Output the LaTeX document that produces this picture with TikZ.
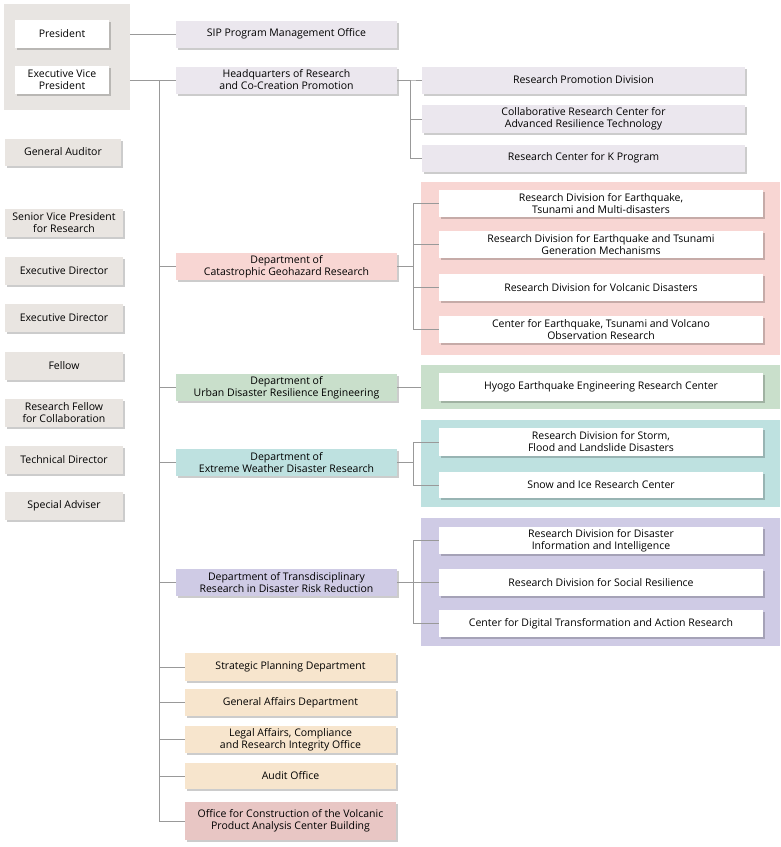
\documentclass[tikz,border=0pt]{standalone}
\usepackage{fontspec}
\setmainfont{Open Sans}
\usetikzlibrary{shadows}

\definecolor{topgray}{HTML}{E8E5E2}
\definecolor{sidegray}{HTML}{E9E5E1}
\definecolor{lavender}{HTML}{EBE7EE}
\definecolor{pinkdept}{HTML}{F8D6D3}
\definecolor{greendept}{HTML}{C9DFCB}
\definecolor{tealdept}{HTML}{BEE1E0}
\definecolor{purpledept}{HTML}{CFCBE5}
\definecolor{beige}{HTML}{F7E5CD}
\definecolor{rosewood}{HTML}{E8C6C4}
\definecolor{linegray}{HTML}{999999}

\begin{document}
\begin{tikzpicture}[x=1pt,y=-1pt,
    every node/.style={font=\fontsize{10.5}{12}\selectfont, align=center, inner sep=1pt, text=black},
    box/.style={minimum height=27, drop shadow={shadow xshift=2pt, shadow yshift=-2pt, fill=black, opacity=.2}},
    sidebox/.style={box, fill=sidegray, minimum width=118, minimum height=28},
    deptbox/.style={box, minimum width=221},
    unitbox/.style={box, fill=white, minimum width=324},
    subbox/.style={box, fill=lavender, minimum width=323},
    officebox/.style={box, fill=beige, minimum width=211},
    panel/.style={minimum width=359},
    conn/.style={draw=linegray, line width=.8pt}]

    \useasboundingbox (0,0) rectangle (780,847);

    % top management
    \node[fill=topgray, minimum width=126, minimum height=106] (top) at (67,57) {};
    \node[box, fill=white, minimum width=94, minimum height=28] (pres) at (62,34) {President};
    \node[box, fill=white, minimum width=94, minimum height=28] (evp) at (62,80) {Executive Vice\\President};

    \node[sidebox, minimum width=116, minimum height=27] (aud) at (63,152) {General Auditor};
    \node[sidebox] (svp) at (64,222.5) {Senior Vice President\\for Research};
    \node[sidebox] (exa) at (64,271) {Executive Director};
    \node[sidebox] (exb) at (64,318) {Executive Director};
    \node[sidebox] (fel) at (64,366) {Fellow};
    \node[sidebox] (rfc) at (64,412.5) {Research Fellow\\for Collaboration};
    \node[sidebox] (tdir) at (64,459.5) {Technical Director};
    \node[sidebox] (sadv) at (64,506) {Special Adviser};

    % headquarters
    \node[deptbox, fill=lavender] (sip) at (286.5,34) {SIP Program Management Office};
    \node[deptbox, fill=lavender] (hq) at (286.5,80) {Headquarters of Research\\and Co-Creation Promotion};
    \node[subbox] (rpd) at (583.5,80) {Research Promotion Division};
    \node[subbox, minimum height=28] (crc) at (583.5,119) {Collaborative Research Center for\\Advanced Resilience Technology};
    \node[subbox] (kp) at (583.5,158) {Research Center for K Program};

    % departments and their panels
    \node[panel, fill=pinkdept, minimum height=173] (pinkp) at (600.5,268.5) {};
    \node[panel, fill=greendept, minimum height=44] (greenp) at (600.5,387) {};
    \node[panel, fill=tealdept, minimum height=87] (tealp) at (600.5,463.5) {};
    \node[panel, fill=purpledept, minimum height=128] (purplep) at (600.5,582) {};

    \node[deptbox, fill=pinkdept] (cat) at (286.5,266.5) {Department of\\Catastrophic Geohazard Research};
    \node[unitbox] (eqm) at (601,203.5) {Research Division for Earthquake,\\Tsunami and Multi-disasters};
    \node[unitbox] (eqg) at (601,244.5) {Research Division for Earthquake and Tsunami\\Generation Mechanisms};
    \node[unitbox] (vol) at (601,287.5) {Research Division for Volcanic Disasters};
    \node[unitbox] (obs) at (601,329.5) {Center for Earthquake, Tsunami and Volcano\\Observation Research};

    \node[deptbox, fill=greendept] (urban) at (286.5,387.5) {Department of\\Urban Disaster Resilience Engineering};
    \node[unitbox, minimum height=28] (hyogo) at (601,387) {Hyogo Earthquake Engineering Research Center};

    \node[deptbox, fill=tealdept] (wx) at (286.5,462.5) {Department of\\Extreme Weather Disaster Research};
    \node[unitbox, minimum height=28] (storm) at (601,442) {Research Division for Storm,\\Flood and Landslide Disasters};
    \node[unitbox, minimum height=26] (snow) at (601,485) {Snow and Ice Research Center};

    \node[deptbox, fill=purpledept] (trans) at (286.5,582.5) {Department of Transdisciplinary\\Research in Disaster Risk Reduction};
    \node[unitbox] (info) at (601,540.5) {Research Division for Disaster\\Information and Intelligence};
    \node[unitbox] (soc) at (601,582.5) {Research Division for Social Resilience};
    \node[unitbox] (dx) at (601,623.5) {Center for Digital Transformation and Action Research};

    % administration
    \node[officebox, minimum height=28] (strat) at (290.5,667) {Strategic Planning Department};
    \node[officebox] (genaff) at (290.5,702.5) {General Affairs Department};
    \node[officebox] (legal) at (290.5,739.5) {Legal Affairs, Compliance\\and Research Integrity Office};
    \node[officebox, minimum height=26] (audit) at (290.5,776) {Audit Office};
    \node[officebox, fill=rosewood, minimum height=38] (cons) at (290.5,821) {Office for Construction of the Volcanic\\Product Analysis Center Building};

    % connectors
    \coordinate (trunk) at (159,80);
    \draw[conn] (pres.east -| top.east) -- (sip.west);
    \draw[conn] (evp.east -| top.east) -- (hq.west);
    \foreach \n in {cat,urban,wx,trans,strat,genaff,legal,audit,cons}
        \draw[conn] (trunk) |- (\n.west);
    \foreach \n in {rpd,crc,kp}
        \draw[conn] (hq.east) -- ++(13,0) |- (\n.west);
    \foreach \n in {eqm,eqg,vol,obs}
        \draw[conn] (cat.east) -- ++(16,0) |- (\n.west);
    \draw[conn] (urban.east) -- (urban.east -| greenp.west);
    \foreach \n in {storm,snow}
        \draw[conn] (wx.east) -- ++(16,0) |- (\n.west);
    \foreach \n in {info,soc,dx}
        \draw[conn] (trans.east) -- ++(16,0) |- (\n.west);

\end{tikzpicture}
\end{document}
